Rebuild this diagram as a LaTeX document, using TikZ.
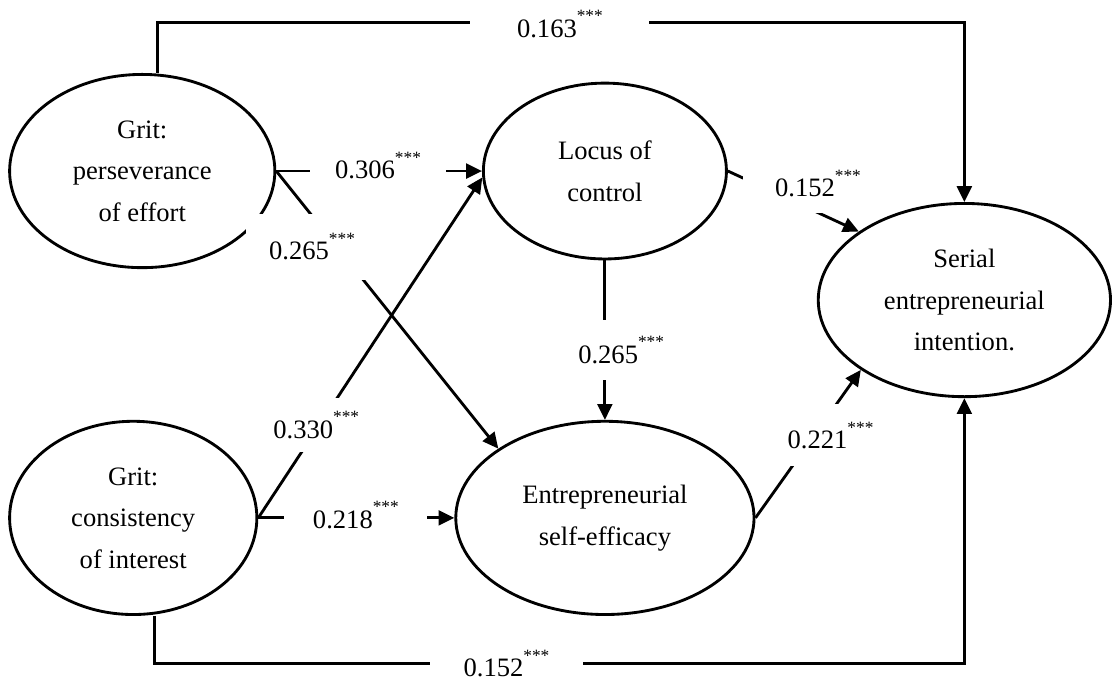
\documentclass[tikz,border=0pt]{standalone}
\usepackage{fontspec}
\setmainfont{Liberation Serif}
\usepackage{tikz}
\usetikzlibrary{shapes.geometric,arrows.meta}
\newcommand{\sigstar}{\raisebox{0.575em}{\fontsize{8.2}{8.2}\selectfont ***}}

\begin{document}
\begin{tikzpicture}[
		arr/.style = {draw=black, line width=1.35pt, -{Triangle[length=7.5pt,width=7pt]}},
		lat/.style args = {#1/#2}{%
			ellipse, draw, line width=1.35pt, align=center, inner sep=0pt,
			minimum width=#1, minimum height=#2, font=\fontsize{12.6}{19.7}\selectfont},
		wt/.style = {fill=white, anchor=base, inner sep=2pt, font=\fontsize{12.6}{15}\selectfont}
		]
		\useasboundingbox (0,0) rectangle (18.53,-11.4);
		\node (pe) [lat=4.42cm/3.22cm] at (2.37,-2.85) {Grit:\\perseverance\\of effort};
		\node (lc) [lat=4.05cm/2.93cm] at (10.08,-2.85) {Locus of\\control};
		\node (ci) [lat=4.12cm/3.22cm] at (2.22,-8.63) {Grit:\\consistency\\of interest};
		\node (ese) [lat=4.97cm/3.22cm] at (10.08,-8.63) {Entrepreneurial\\self-efficacy};
		\node (sei) [lat=4.87cm/3.22cm] at (16.07,-5) {Serial\\entrepreneurial\\intention.};
		\coordinate (tl) at (2.63,-0.38);
		\coordinate (bl) at (2.58,-11.05);
		\foreach \from/\to in {pe.east/lc.west, pe.east/ese.147, ci.east/lc.183, ci.east/ese.west, lc.east/sei.147, lc.south/ese.north, ese.east/sei.214}
		\draw[arr] (\from) -- (\to);
		\draw[arr] (pe.north -| tl) -- (tl) -| (sei.north);
		\draw[arr] (ci.south -| bl) -- (bl) -| (sei.south);
		% path coefficients
		\node (w163) [wt, minimum width=2.98cm] at (9.33,-0.62) {0.163\sigstar};
		\node (w306) [wt, minimum width=2.27cm] at (6.3,-2.98) {0.306\sigstar};
		\node (w265a) [wt, minimum width=2.2cm, minimum height=1.1cm] at (5.2,-4.33) {0.265\sigstar};
		\node (w330) [wt, minimum width=1.87cm, minimum height=0.9cm] at (5.27,-7.3) {0.330\sigstar};
		\node (w218) [wt, minimum width=2.38cm] at (5.93,-8.8) {0.218\sigstar};
		\node (w152a) [wt, minimum width=2.5cm, minimum height=0.97cm] at (13.63,-3.28) {0.152\sigstar};
		\node (w265b) [wt, minimum width=1.67cm, minimum height=1cm] at (10.35,-6.05) {0.265\sigstar};
		\node (w221) [wt, minimum width=1.67cm, minimum height=1.03cm] at (13.84,-7.47) {0.221\sigstar};
		\node (w152b) [wt, minimum width=2.55cm] at (8.44,-11.28) {0.152\sigstar};
	\end{tikzpicture}
\end{document}
